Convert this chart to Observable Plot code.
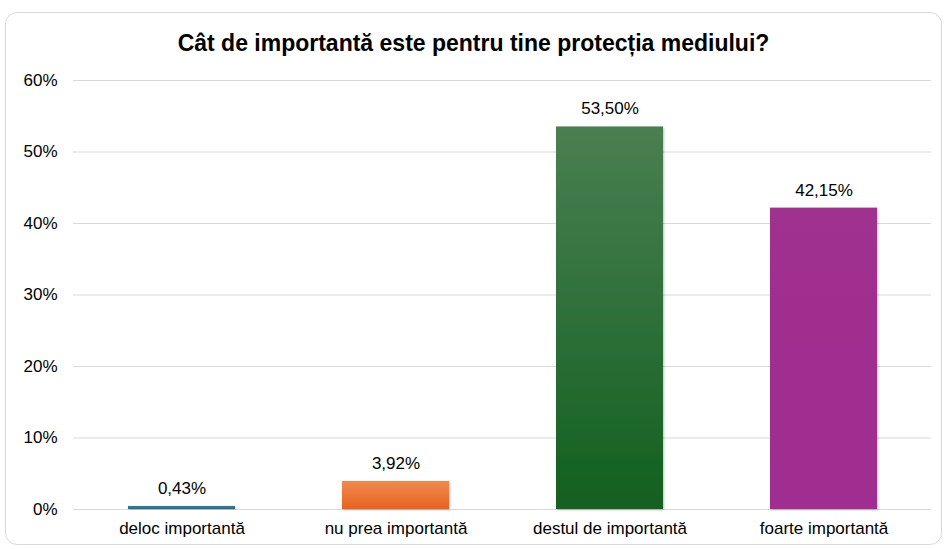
<!DOCTYPE html>
<html>
<head>
<meta charset="utf-8">
<script src="https://cdn.jsdelivr.net/npm/d3@7"></script>
<script src="https://cdn.jsdelivr.net/npm/@observablehq/plot@0.6"></script>
<style>
  body { margin: 0; background: #fff; font-family: "Liberation Sans", Arial, sans-serif; }
  #frame { position: absolute; left: 5px; top: 12px; width: 935px; height: 531px; border: 1px solid #d9d9d9; border-radius: 12px; }
  #title { position: absolute; left: 0; top: 29px; width: 947px; text-align: center; font-size: 23px; line-height: 28px; font-weight: bold; color: #000; }
  #chart { position: absolute; left: 0; top: 60px; }
</style>
</head>
<body>
<div id="frame"></div>
<div id="title">Cât de importantă este pentru tine protecția mediului?</div>
<div id="chart"></div>
<script>
const categories = ["deloc importantă", "nu prea importantă", "destul de importantă", "foarte importantă"];
const values = [0.43, 3.92, 53.50, 42.15];
const yTicks = [0, 10, 20, 30, 40, 50, 60];
const fills = ["url(#gBlue)", "url(#gOrange)", "url(#gGreen)", "url(#gPurple)"];

const data = categories.map((c, i) => ({cat: c, value: values[i], fill: fills[i]}));
const ro = d3.formatLocale({decimal: ",", thousands: ".", grouping: [3], currency: ["", " lei"]});
const fmt = ro.format(".2f");

const chart = Plot.plot({
  width: 947,
  height: 489,
  marginTop: 20,
  marginBottom: 40,
  marginLeft: 73,
  marginRight: 16,
  style: {fontFamily: "'Liberation Sans', Arial, sans-serif", fontSize: "17px", color: "#000", background: "transparent"},
  x: {domain: categories, paddingInner: 0.5, paddingOuter: 0.25, label: null, tickSize: 0, tickPadding: 12},
  y: {domain: [0, 60], ticks: yTicks, label: null, tickSize: 0, tickPadding: 16, tickFormat: d => d + "%"},
  marks: [
    Plot.gridY(yTicks, {stroke: "#d9d9d9", strokeOpacity: 1, strokeWidth: 1.2}),
    Plot.barY(data, {x: "cat", y: "value", fill: "fill"}),
    Plot.text(data, {x: "cat", y: "value", text: d => fmt(d.value) + "%", dy: -18, fontSize: 17, fill: "#000"})
  ]
});

const svg = d3.select(chart);
const defs = svg.insert("defs", ":first-child");
function grad(id, top, bottom) {
  const g = defs.append("linearGradient").attr("id", id).attr("x1", 0).attr("y1", 0).attr("x2", 0).attr("y2", 1);
  g.append("stop").attr("offset", "0%").attr("stop-color", top);
  g.append("stop").attr("offset", "100%").attr("stop-color", bottom);
}
grad("gBlue", "#3a7ca0", "#2b6a8a");
grad("gOrange", "#f08a50", "#e8621f");
grad("gGreen", "#4a7f52", "#126020");
grad("gPurple", "#a0308f", "#a02d90");
const f = defs.append("filter").attr("id", "shadow").attr("x", "-10%").attr("y", "-10%").attr("width", "130%").attr("height", "130%");
f.append("feDropShadow").attr("dx", 1).attr("dy", 1).attr("stdDeviation", 1.2).attr("flood-color", "#000").attr("flood-opacity", 0.25);
svg.selectAll("g[aria-label='bar'] rect").attr("filter", "url(#shadow)");

document.getElementById("chart").appendChild(chart);
</script>
</body>
</html>
